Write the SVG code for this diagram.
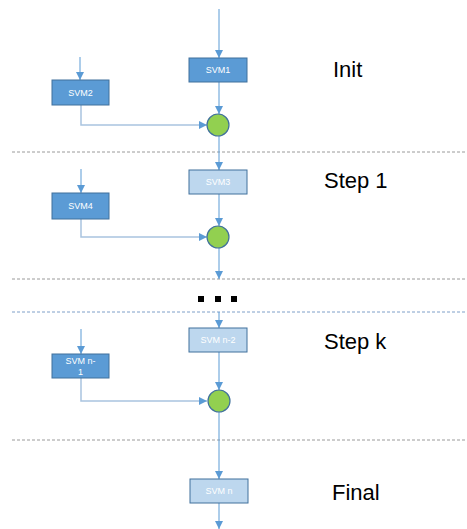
<svg xmlns="http://www.w3.org/2000/svg" width="467" height="529" viewBox="0 0 467 529">
<style>
.dk{fill:#5b9bd5;stroke:#41719c;stroke-width:1}
.lt{fill:#bdd7ee;stroke:#41719c;stroke-width:1}
.bt{font-family:"Liberation Sans",Arial,sans-serif;font-size:9px;fill:#ffffff;text-anchor:middle}
.ci{fill:#92d050;stroke:#41719c;stroke-width:1.2}
.cn{fill:none;stroke:#5b9bd5;stroke-width:1}
.cl{fill:none;stroke:#a9c4e0;stroke-width:1.5}
.sep{stroke:#9a9a9a;stroke-width:1;stroke-dasharray:3,2}
.sepb{stroke:#7f9fc8;stroke-width:1;stroke-dasharray:3,2}
.lab{font-family:"Liberation Sans",Arial,sans-serif;font-size:22px;fill:#000000}
</style>
<defs>
<marker id="ah" viewBox="0 0 10 10" refX="10" refY="5" markerWidth="8" markerHeight="8" markerUnits="userSpaceOnUse" orient="auto">
<path d="M0,0 L10,5 L0,10 z" fill="#5b9bd5"/>
</marker>
</defs>
<g id="separators">
<line class="sep" x1="12" y1="152" x2="467" y2="152"/>
<line class="sep" x1="12" y1="279" x2="467" y2="279"/>
<line class="sepb" x1="12" y1="312" x2="467" y2="312"/>
<line class="sep" x1="12" y1="440" x2="467" y2="440"/>
</g>
<g id="connectors">
<line class="cn" x1="219" y1="9" x2="219" y2="58" marker-end="url(#ah)"/>
<line class="cn" x1="80" y1="57" x2="80" y2="80" marker-end="url(#ah)"/>
<line class="cn" x1="219" y1="82" x2="219" y2="114" marker-end="url(#ah)"/>
<polyline class="cl" points="81,105 81,125 207,125" marker-end="url(#ah)"/>
<line class="cn" x1="219" y1="136" x2="219" y2="170" marker-end="url(#ah)"/>
<line class="cn" x1="81" y1="169" x2="81" y2="193" marker-end="url(#ah)"/>
<line class="cn" x1="219" y1="194" x2="219" y2="226" marker-end="url(#ah)"/>
<polyline class="cl" points="81,219 81,237 207,237" marker-end="url(#ah)"/>
<line class="cn" x1="219" y1="248" x2="219" y2="279" marker-end="url(#ah)"/>
<line class="cn" x1="219" y1="312" x2="219" y2="328" marker-end="url(#ah)"/>
<line class="cn" x1="81" y1="329" x2="81" y2="354" marker-end="url(#ah)"/>
<line class="cn" x1="219" y1="352" x2="219" y2="390" marker-end="url(#ah)"/>
<polyline class="cl" points="81,378 81,401 207,401" marker-end="url(#ah)"/>
<line class="cn" x1="219" y1="412" x2="219" y2="479" marker-end="url(#ah)"/>
<line class="cn" x1="219" y1="503" x2="219" y2="529" marker-end="url(#ah)"/>
</g>
<g id="dots" fill="#000000">
<rect x="198" y="296" width="6" height="6"/>
<rect x="215" y="296" width="6" height="6"/>
<rect x="231" y="296" width="6" height="6"/>
</g>
<g id="svm1"><rect class="dk" x="189" y="58" width="58" height="24"/><text class="bt" x="218" y="73">SVM1</text></g>
<g id="svm2"><rect class="dk" x="52" y="80" width="57" height="25"/><text class="bt" x="80.5" y="95.5">SVM2</text></g>
<g id="merge1"><circle class="ci" cx="218" cy="125" r="11"/></g>
<g id="svm3"><rect class="lt" x="189" y="170" width="58" height="24"/><text class="bt" x="218" y="185">SVM3</text></g>
<g id="svm4"><rect class="dk" x="52" y="193" width="57" height="26"/><text class="bt" x="80.5" y="209">SVM4</text></g>
<g id="merge2"><circle class="ci" cx="218" cy="237" r="11"/></g>
<g id="svmn2"><rect class="lt" x="189" y="328" width="58" height="24"/><text class="bt" x="218" y="343">SVM n-2</text></g>
<g id="svmn1"><rect class="dk" x="52" y="354" width="57" height="24"/><text class="bt" x="80.5" y="364">SVM n-</text><text class="bt" x="80.5" y="375">1</text></g>
<g id="merge3"><circle class="ci" cx="219" cy="401" r="11"/></g>
<g id="svmn"><rect class="lt" x="190" y="479" width="58" height="24"/><text class="bt" x="219" y="494">SVM n</text></g>
<g id="labels">
<text class="lab" x="333" y="77">Init</text>
<text class="lab" x="324" y="188">Step 1</text>
<text class="lab" x="324" y="349">Step k</text>
<text class="lab" x="332" y="500">Final</text>
</g>
</svg>
